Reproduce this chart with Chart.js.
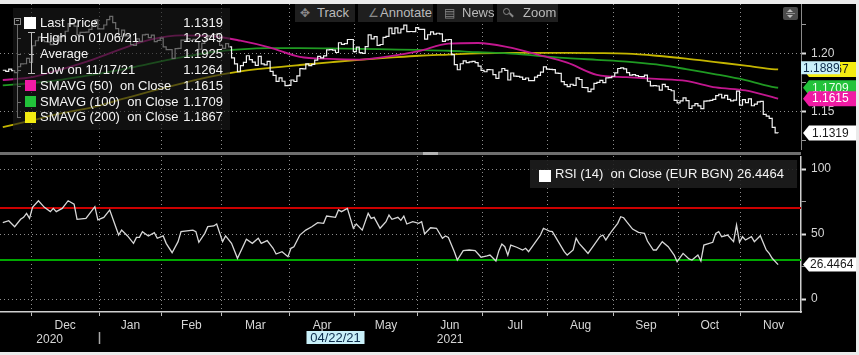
<!DOCTYPE html>
<html>
<head>
<meta charset="utf-8">
<script src="https://cdn.jsdelivr.net/npm/chart.js"></script>
<style>
  html, body { margin:0; padding:0; width:859px; height:355px; overflow:hidden; background:#ebebeb; }
  body { font-family: "Liberation Sans", Arial, sans-serif; }
  #frame { position:absolute; left:0; top:4px; width:856px; height:348px; background:#000; overflow:hidden; }
  canvas { position:absolute; left:0; display:block; }
  #c1 { top:0; }
  #c2 { top:152px; }
  .tb { position:absolute; top:0; height:18px; background:#1f1f1f; color:#bababa; font-size:13px; line-height:18px; white-space:nowrap; }
  .tb span { position:absolute; top:0; }
  .tb .ic { color:#8a8a8a; font-size:12px; }
  #legend { position:absolute; left:13px; top:4px; width:217px; height:122px; background:rgba(26,26,26,0.62); }
  .row { position:absolute; left:27px; right:7px; height:16px; line-height:16px; color:#f4f4f4; font-size:13px; white-space:pre; }
  .row .v { position:absolute; right:0; top:0; }
  .abs { position:absolute; }
  #rsiLegend { position:absolute; left:530px; top:156px; width:267px; height:28px; background:rgba(30,30,30,0.88); }
  #rsiLegend .t { position:absolute; left:25px; top:6px; color:#f4f4f4; font-size:13px; line-height:16px; white-space:pre; }
</style>
</head>
<body>
<div id="frame">
  <canvas id="c1" width="856" height="146"></canvas>
  <canvas id="c2" width="856" height="196"></canvas>

  <div class="tb" style="left:295px;width:60px;"><span class="ic" style="left:5px;">✥</span><span style="left:22px;">Track</span></div>
  <div class="tb" style="left:358px;width:75px;"><span class="ic" style="left:10px;">∠</span><span style="left:22px;">Annotate</span></div>
  <div class="tb" style="left:437px;width:56px;"><span class="ic" style="left:7px;">▤</span><span style="left:25px;">News</span></div>
  <div class="tb" style="left:497px;width:61px;">
    <div class="abs" style="left:6px;top:4px;width:5px;height:5px;border:1.5px solid #8a8a8a;border-radius:50%;"></div>
    <div class="abs" style="left:12px;top:10px;width:5px;height:1.5px;background:#8a8a8a;transform:rotate(45deg);"></div>
    <span style="left:26px;">Zoom</span></div>

  <div class="abs" style="left:783px;top:3px;width:15px;height:13px;background:#4b4b4b;border-radius:2px;">
    <div class="abs" style="left:4px;top:2px;width:0;height:0;border-left:3.5px solid transparent;border-right:3.5px solid transparent;border-bottom:3px solid #bdbdbd;"></div>
    <div class="abs" style="left:3px;top:6px;width:9px;height:1px;background:#8c8c8c;"></div>
    <div class="abs" style="left:4px;top:8px;width:0;height:0;border-left:3.5px solid transparent;border-right:3.5px solid transparent;border-top:3px solid #bdbdbd;"></div>
  </div>

  <div id="legend"></div>

  <div class="abs" style="left:0;top:148px;width:801px;height:3px;background:#6f6f6f;"></div>
  <div class="abs" style="left:423px;top:148px;width:15px;height:3px;background:#b4b4b4;"></div>

  <div id="rsiLegend">
    <div class="abs" style="left:9px;top:10px;width:12px;height:12px;background:#ffffff;"></div>
    <div class="t" id="rsiText"></div>
  </div>
</div>

<script>
// ---------------- DATA ----------------
// Business-day index 0 = 17 Nov 2020 ... 261 = 17 Nov 2021 (EUR BGN daily close)
const price = [
  1.1860,1.1850,1.1870,1.1857,1.1840,1.1890,1.1914,1.1916,1.1963,1.1927,
  1.2071,1.2114,1.2145,1.2120,1.2107,1.2102,1.2080,1.2132,1.2113,1.2148,1.2151,1.2196,1.2262,1.2255,1.2240,1.2166,1.2186,1.2187,1.2188,1.2213,1.2250,1.2295,1.2216,
  1.2216,1.2250,1.2297,1.2325,1.2270,1.2219,1.2151,1.2206,1.2156,1.2156,1.2080,1.2075,1.2131,1.2108,1.2165,1.2170,1.2141,1.2162,1.2107,1.2117,1.2136,
  1.2061,1.2038,1.2037,1.1962,1.2047,1.2049,1.2119,1.2119,1.2132,1.2118,1.2126,1.2106,1.2041,1.2092,1.2120,1.2156,1.2150,1.2167,1.2175,1.2075,
  1.2049,1.2090,1.2062,1.1967,1.1915,1.1847,1.1900,1.1928,1.1985,1.1952,1.1930,1.1902,1.1979,1.1915,1.1906,1.1937,1.1851,1.1815,1.1764,1.1795,1.1765,1.1728,1.1730,
  1.1776,1.1763,1.1812,1.1874,1.1872,1.1914,1.1899,1.1911,1.1948,1.1980,1.1966,1.1984,1.2036,1.2038,1.2033,1.2013,1.2097,1.2083,1.2089,1.2125,1.2125,1.2020,
  1.2060,1.2011,1.2005,1.2064,1.2164,1.2131,1.2150,1.2075,1.2082,1.2144,1.2152,1.2223,1.2175,1.2225,1.2181,1.2214,1.2249,1.2193,1.2194,1.2193,1.2228,
  1.2212,1.2213,1.2128,1.2166,1.2190,1.2171,1.2179,1.2174,1.2109,1.2121,1.2125,1.1995,1.1908,1.1864,1.1916,1.1941,1.1926,1.1932,1.1937,1.1925,1.1896,1.1858,
  1.1847,1.1865,1.1864,1.1823,1.1790,1.1845,1.1875,1.1859,1.1776,1.1836,1.1810,1.1807,1.1800,1.1781,1.1793,1.1771,1.1770,1.1801,1.1815,1.1844,1.1889,1.1870,
  1.1868,1.1866,1.1835,1.1833,1.1761,1.1736,1.1718,1.1739,1.1729,1.1794,1.1780,1.1711,1.1710,1.1675,1.1698,1.1747,1.1756,1.1772,1.1753,1.1795,1.1797,1.1808,
  1.1837,1.1875,1.1880,1.1871,1.1840,1.1818,1.1822,1.1813,1.1806,1.1805,1.1818,1.1765,1.1725,1.1728,1.1724,1.1689,1.1738,1.1718,1.1694,1.1683,1.1600,1.1578,
  1.1596,1.1621,1.1598,1.1530,1.1554,1.1572,1.1552,1.1529,1.1594,1.1596,1.1601,1.1608,1.1642,1.1653,1.1622,1.1644,1.1608,1.1596,1.1602,1.1680,1.1558,
  1.1606,1.1580,1.1613,1.1554,1.1568,1.1588,1.1591,1.1479,1.1465,1.1445,1.1368,1.1320,1.1319
];

const smaDays = [0,10,20,30,40,50,60,70,80,90,100,110,120,130,140,150,160,170,180,190,200,210,220,230,240,250,260,261];
const sma50  = [1.1776,1.1800,1.1870,1.1950,1.2045,1.2125,1.2160,1.2155,1.2115,1.2055,1.1975,1.1958,1.1952,1.1980,1.2025,1.2090,1.2095,1.2060,1.1995,1.1925,1.1820,1.1800,1.1785,1.1768,1.1712,1.1686,1.1622,1.1615];
const sma100 = [1.1730,1.1750,1.1780,1.1820,1.1865,1.1920,1.1970,1.2015,1.2040,1.2050,1.2050,1.2048,1.2045,1.2040,1.2035,1.2028,1.2015,1.2005,1.1985,1.1965,1.1950,1.1935,1.1910,1.1870,1.1825,1.1775,1.1712,1.1709];
const sma200 = [1.1370,1.1430,1.1490,1.1540,1.1610,1.1680,1.1745,1.1805,1.1850,1.1880,1.1905,1.1928,1.1950,1.1968,1.1985,1.1995,1.2005,1.2010,1.2010,1.2010,1.2008,1.2003,1.1985,1.1960,1.1930,1.1900,1.1868,1.1867];

const rsiDays = [0,2,4,6,7,8,9,10,12,14,16,17,18,20,22,24,25,28,31,32,34,36,39,40,42,44,45,46,47,49,51,52,54,55,57,59,60,64,65,66,68,69,71,72,74,75,77,79,82,84,86,87,89,91,92,94,96,97,98,100,102,104,106,108,109,112,113,114,116,118,119,121,123,124,125,127,129,130,131,133,134,135,136,138,140,141,142,144,146,148,149,150,152,153,155,157,159,161,163,164,166,167,168,169,170,171,173,175,176,177,179,181,182,184,185,187,189,190,192,193,194,196,197,199,201,202,203,205,207,208,209,210,212,214,216,217,219,220,222,224,226,227,229,231,232,234,235,236,239,240,241,242,244,246,247,248,249,250,252,253,255,257,258,259,261];
const rsiValues = [58.7,60.2,55.6,61.3,62.8,65.9,62,70.5,75.6,70.5,67.2,69.7,67.2,69.7,75.6,73,61.3,62,71,60.8,62.8,68.5,49.2,53,48.5,42.8,47.4,47.4,51.8,48.5,51,46.7,48.5,42.8,35.6,44.1,51.8,53,51.8,43.6,50.5,55.6,56.2,57.7,44.1,48.5,42.8,31.3,45.9,42.8,46.7,42.8,44.9,39,34.6,36.4,32.5,39,40.2,49.2,53,55.6,58.7,58.2,63.8,62.8,68.5,67.2,69.7,54.4,57.7,53,65.9,62,62.8,54.4,59.5,64.6,61.3,62.8,60.5,63.8,57.7,59.5,58.2,59.5,50,54.8,54.4,46.7,48.5,47.4,36.4,30,37.2,37.7,37.2,32.1,33.1,33.8,29.2,37.2,42.3,40.2,33.8,41.5,39.8,37.7,39,36.4,42.8,49.2,54.4,52.3,51.8,44.1,36.4,33.8,37.7,46.7,42.8,37.7,35.1,41.5,47.9,49.2,45.4,52.3,58.2,63.3,62.5,59.5,53.8,51.3,50.5,44.6,37.7,37.7,44.1,40.2,33.8,28.7,35.1,30.8,30,33.8,29.2,41.5,43.6,50.5,51.8,47.9,49.2,44.1,56.9,43.6,47.9,45.4,47.9,44.1,48.7,37.7,35.1,31.3,26.4464];
const rsiLevels = [70, 30];

const monthStarts = [10,33,54,74,97,119,140,162,184,206,228,249,271];
const monthNames = ['Dec','Jan','Feb','Mar','Apr','May','Jun','Jul','Aug','Sep','Oct','Nov'];
const yearNames = ['2020','2021'];

const priceTicks = [1.125,1.15,1.175,1.20,1.225];
const priceTickLabels = ['','1.15','','1.20',''];
const rsiTicks = [0,25,50,75,100];
const rsiTickLabels = ['0','','50','','100'];

const legendLabels = ['Last Price','High on 01/06/21','Average','Low on 11/17/21','SMAVG (50)  on Close','SMAVG (100)  on Close','SMAVG (200)  on Close'];
const legendValues = ['1.1319','1.2349','1.1925','1.1264','1.1615','1.1709','1.1867'];
const rsiLegendText = 'RSI (14)  on Close (EUR BGN) 26.4464';
const crosshairDay = 112;
const crosshairDate = '04/22/21';
const crosshairPrice = 1.1889;

// ---------------- STYLE ----------------
Chart.defaults.font.family = '"Liberation Sans", Arial, sans-serif';
const X_MIN = -0.94, X_MAX = 268.7;
const P_MIN = 1.11724, P_MAX = 1.24310;
const R_MIN = -10, R_MAX = 110;
const GRID = '#8e8e8e';
const DOT = [1, 3];
const TXT = '#d6d6d6';
const C_MAG = '#c2178f', C_GRN = '#1f9a22', C_YEL = '#c4b500';
const T_MAG = '#f01ba4', T_GRN = '#22c33a', T_YEL = '#f3ec12';

// legend
(function(){
  const L = document.getElementById('legend');
  const centers = [15,30,46,62,78,94,109];
  let h = '';
  legendLabels.forEach((t,i)=>{
    h += `<div class="row" style="top:${centers[i]-8}px">${t}<span class="v">${legendValues[i]}</span></div>`;
  });
  // markers
  h += `<div class="abs" style="left:11px;top:9px;width:12px;height:12px;background:#fff"></div>`;
  h += `<div class="abs" style="left:12px;top:72px;width:11px;height:11px;background:${T_MAG}"></div>`;
  h += `<div class="abs" style="left:12px;top:88px;width:11px;height:11px;background:${T_GRN}"></div>`;
  h += `<div class="abs" style="left:12px;top:104px;width:11px;height:11px;background:${T_YEL}"></div>`;
  // range bracket (high / average / low)
  h += `<div class="abs" style="left:18px;top:24px;width:1px;height:42px;background:#bdbdbd"></div>`;
  h += `<div class="abs" style="left:15px;top:24px;width:7px;height:1px;background:#bdbdbd"></div>`;
  h += `<div class="abs" style="left:16px;top:46px;width:5px;height:1px;background:#bdbdbd"></div>`;
  h += `<div class="abs" style="left:15px;top:65px;width:7px;height:1px;background:#bdbdbd"></div>`;
  // collapse control
  h += `<div class="abs" style="left:1px;top:10px;width:5px;height:5px;border:1px solid #8a8a8a"></div>`;
  h += `<div class="abs" style="left:3px;top:12px;width:3px;height:1px;background:#8a8a8a"></div>`;
  h += `<div class="abs" style="left:4px;top:17px;width:1px;height:93px;background:#6c6c6c"></div>`;
  [30,46,62,78,94,109].forEach(c=>{ h += `<div class="abs" style="left:4px;top:${c}px;width:4px;height:1px;background:#6c6c6c"></div>`; });
  L.innerHTML = h;
  document.getElementById('rsiText').textContent = rsiLegendText;
})();

// x ticks: month boundaries (grid) + month / year labels
const bounds = monthStarts.slice(0, monthNames.length).map(s => s - 0.5);
const boundSet = new Set(bounds);
const xTicks = [];
bounds.forEach(b => xTicks.push({v:b, label:''}));
for (let i = 0; i < monthNames.length; i++) xTicks.push({v:(monthStarts[i] + monthStarts[i+1]) / 2 - 0.5, label:monthNames[i]});
const yearBreak = monthStarts[1] - 0.5;
xTicks.push({v:(X_MIN + yearBreak) / 2, label:['', yearNames[0]]});
xTicks.push({v:(yearBreak + X_MAX) / 2 + 0.01, label:['', yearNames[1]]});
xTicks.sort((a,b) => a.v - b.v);

function tag(ctx, xl, xr, yc, h, bg, fg, text, arrow, tx, align) {
  ctx.save();
  ctx.fillStyle = bg;
  ctx.beginPath();
  const t = yc - h/2, b = yc + h/2;
  if (arrow) { ctx.moveTo(xl, yc); ctx.lineTo(xl + 6, t); } else ctx.moveTo(xl, t);
  ctx.lineTo(xr, t); ctx.lineTo(xr, b);
  if (arrow) ctx.lineTo(xl + 6, b); else ctx.lineTo(xl, b);
  ctx.closePath(); ctx.fill();
  ctx.fillStyle = fg;
  ctx.font = '12px "Liberation Sans", Arial, sans-serif';
  ctx.textBaseline = 'middle';
  ctx.textAlign = align || 'left';
  ctx.fillText(text, tx, yc + 0.5);
  ctx.restore();
}

const upperTags = {
  id: 'upperTags',
  afterDraw(chart) {
    const ctx = chart.ctx, ys = chart.scales.y;
    const list = [
      [sma200[sma200.length-1], T_YEL, '#1a1a1a'],
      [sma100[sma100.length-1], T_GRN, '#eaffea'],
      [sma50[sma50.length-1], T_MAG, '#ffffff'],
      [price[price.length-1], '#ffffff', '#1a1a1a']
    ];
    list.forEach(([v, bg, fg]) => tag(ctx, 803, 856, ys.getPixelForValue(v), 15, bg, fg, v.toFixed(4), true, 812));
    tag(ctx, 801, 840, ys.getPixelForValue(crosshairPrice) + 1, 13, '#c9f0f9', '#0d2c4c', crosshairPrice.toFixed(4), false, 803);
  }
};

const lowerExtras = {
  id: 'lowerExtras',
  afterDraw(chart) {
    const ctx = chart.ctx, ys = chart.scales.y, xs = chart.scales.x;
    const last = rsiValues[rsiValues.length-1];
    tag(ctx, 803, 856, ys.getPixelForValue(last), 14, '#ffffff', '#1a1a1a', last.toFixed(4), true, 810);
    // crosshair date box
    const cx = xs.getPixelForValue(crosshairDay);
    ctx.save();
    ctx.fillStyle = '#c9f0f9';
    ctx.fillRect(cx - 29, 175, 58, 13);
    ctx.fillStyle = '#0d2c4c';
    ctx.font = '13px "Liberation Sans", Arial, sans-serif';
    ctx.textAlign = 'center'; ctx.textBaseline = 'middle';
    ctx.fillText(crosshairDate, cx, 182);
    // year separator
    const yx = Math.round(xs.getPixelForValue(yearBreak)) + 0.5;
    ctx.strokeStyle = '#a8a8a8'; ctx.lineWidth = 1.5;
    ctx.beginPath(); ctx.moveTo(yx, 176); ctx.lineTo(yx, 188); ctx.stroke();
    ctx.restore();
  }
};

const noPadY = s => { s.width = 55; s.paddingTop = 0; s.paddingBottom = 0; };

// ---------------- UPPER CHART ----------------
new Chart(document.getElementById('c1'), {
  type: 'line',
  data: { datasets: [
    { label:'Last Price', data: price.map((v,i)=>({x:i, y:v})), borderColor:'#f2f2f2', borderWidth:1.2, stepped:true, pointRadius:0 },
    { label:'SMAVG (50)', data: smaDays.map((d,i)=>({x:d, y:sma50[i]})), borderColor:C_MAG, borderWidth:1.8, pointRadius:0, cubicInterpolationMode:'monotone' },
    { label:'SMAVG (100)', data: smaDays.map((d,i)=>({x:d, y:sma100[i]})), borderColor:C_GRN, borderWidth:1.8, pointRadius:0, cubicInterpolationMode:'monotone' },
    { label:'SMAVG (200)', data: smaDays.map((d,i)=>({x:d, y:sma200[i]})), borderColor:C_YEL, borderWidth:1.8, pointRadius:0, cubicInterpolationMode:'monotone' }
  ]},
  options: {
    responsive:false, animation:false, events:[],
    layout:{ padding:0 },
    plugins:{ legend:{display:false}, tooltip:{enabled:false} },
    scales: {
      x: { type:'linear', min:X_MIN, max:X_MAX,
           afterBuildTicks: s => { s.ticks = bounds.map(v => ({value:v})); },
           ticks:{ display:false },
           grid:{ color:GRID, drawTicks:false },
           border:{ display:false, dash:DOT },
           afterFit: s => { s.height = 0; s.paddingLeft = 0; s.paddingRight = 0; } },
      y: { position:'right', min:P_MIN, max:P_MAX,
           afterBuildTicks: s => { s.ticks = priceTicks.map(v => ({value:v})); },
           ticks:{ color:TXT, font:{size:12}, padding:5, callback:(v,i) => priceTickLabels[i] },
           grid:{ color: c => priceTickLabels[c.index] ? GRID : 'rgba(0,0,0,0)', tickColor: c => priceTickLabels[c.index] ? '#e0e0e0' : '#9a9a9a', tickLength:5, tickWidth: c => priceTickLabels[c.index] ? 2 : 1 },
           border:{ color:'#8a8a8a', width:1, dash:DOT },
           afterFit: noPadY }
    }
  },
  plugins:[upperTags]
});

// ---------------- LOWER CHART (RSI) ----------------
new Chart(document.getElementById('c2'), {
  type: 'line',
  data: { datasets: [
    { label:'RSI (14)', data: rsiDays.map((d,i)=>({x:d, y:rsiValues[i]})), borderColor:'#d8d8d8', borderWidth:1.3, pointRadius:0, tension:0 },
    { label:'70', data: [{x:X_MIN, y:rsiLevels[0]}, {x:X_MAX, y:rsiLevels[0]}], borderColor:'#cc0000', borderWidth:2, pointRadius:0 },
    { label:'30', data: [{x:X_MIN, y:rsiLevels[1]}, {x:X_MAX, y:rsiLevels[1]}], borderColor:'#00a800', borderWidth:2, pointRadius:0 }
  ]},
  options: {
    responsive:false, animation:false, events:[],
    layout:{ padding:0 },
    plugins:{ legend:{display:false}, tooltip:{enabled:false} },
    scales: {
      x: { type:'linear', min:X_MIN, max:X_MAX,
           afterBuildTicks: s => { s.ticks = xTicks.map(t => ({value:t.v})); },
           ticks:{ autoSkip:false, maxRotation:0, minRotation:0, color:TXT, font:{size:12}, padding:2,
                   callback:(v,i) => xTicks[i].label },
           grid:{ color: c => boundSet.has(c.tick.value) ? GRID : 'rgba(0,0,0,0)',
                  tickColor: c => boundSet.has(c.tick.value) ? '#bdbdbd' : 'rgba(0,0,0,0)', tickLength:4 },
           border:{ color:'#cfcfcf', width:1.5, dash:DOT },
           afterFit: s => { s.height = 40; s.paddingLeft = 0; s.paddingRight = 0; } },
      y: { position:'right', min:R_MIN, max:R_MAX,
           afterBuildTicks: s => { s.ticks = rsiTicks.map(v => ({value:v})); },
           ticks:{ color:TXT, font:{size:12}, padding:5, callback:(v,i) => rsiTickLabels[i] },
           grid:{ color: c => rsiTickLabels[c.index] ? GRID : 'rgba(0,0,0,0)', tickColor: c => rsiTickLabels[c.index] ? '#e0e0e0' : '#9a9a9a', tickLength:5, tickWidth: c => rsiTickLabels[c.index] ? 2 : 1 },
           border:{ color:'#cfcfcf', width:1.5, dash:DOT },
           afterFit: noPadY }
    }
  },
  plugins:[lowerExtras]
});
</script>
</body>
</html>
